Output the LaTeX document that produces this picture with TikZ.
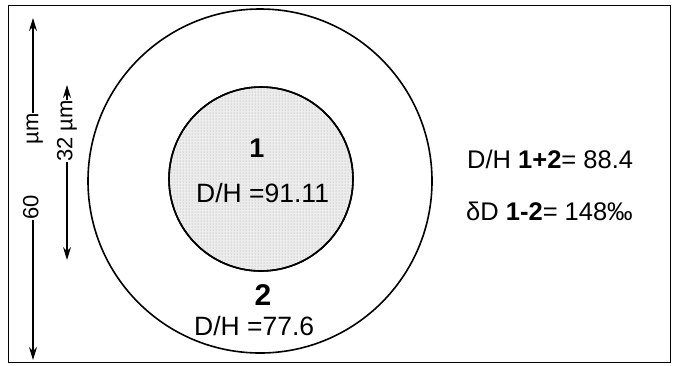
\documentclass[tikz,border=0pt]{standalone}
\usepackage{fontspec}
\setmainfont{Liberation Sans}
\usetikzlibrary{arrows.meta,patterns}
\begin{document}
\begin{tikzpicture}[x=1pt,y=-1pt,
  lbl/.style={font=\fontsize{26.5}{30}\selectfont, inner sep=1pt},
  rlbl/.style={font=\fontsize{25.5}{30}\selectfont, inner sep=1pt},
  dimlbl/.style={font=\fontsize{22}{26}\selectfont, rotate=90, inner sep=0.5pt},
  dimarrow/.style={line width=1.2pt, -{Stealth[length=13pt,width=8pt]}},
  ring/.style={circle, draw, line width=1.6pt, inner sep=0pt}]
\useasboundingbox (0,0) rectangle (676,365);
\node[draw, line width=1.4pt, minimum width=662pt, minimum height=357pt, inner sep=0pt, anchor=north west] (frame) at (8,5) {};
\node[ring, minimum size=344pt] (outer) at (260,181) {};
\node[ring, fill=gray!14, minimum size=184pt] (inner) at (261,179) {};
\fill[pattern=dots, pattern color=gray!75] (inner.center) circle (91pt);
\draw[line width=1.6pt] (inner.center) circle (92pt);
\node[lbl, font=\bfseries\fontsize{27}{30}\selectfont, anchor=base] (n1) at (257,157) {1};
\node[lbl, anchor=base west] (dh1) at (195,202) {D/H =91.11};
\node[lbl, font=\bfseries\fontsize{30}{32}\selectfont, anchor=base] (n2) at (263,305) {2};
\node[lbl, anchor=base west] (dh2) at (193,335) {D/H =77.6};
\node[rlbl, anchor=base west] (sum) at (466,168) {D/H \textbf{1+2}= 88.4};
\node[rlbl, anchor=base west] (delta) at (465,220) {δD \textbf{1-2}= 148‰};
% 60 um dimension
\coordinate (t60top) at (33,18);
\coordinate (t60bot) at (33,360);
\node[dimlbl] (l60) at (33,166.5) {60\hspace{2.3em}µm};
\draw[dimarrow] (l60.east) -- (t60top);
\draw[dimarrow] (l60.west) -- (t60bot);
% 32 um dimension
\coordinate (t32top) at (67,85);
\coordinate (t32bot) at (67,260);
\node[dimlbl] (l32) at (67,131) {32 µm};
\draw[dimarrow] (l32.east) -- (t32top);
\draw[dimarrow] (l32.west) -- (t32bot);
\end{tikzpicture}
\end{document}
